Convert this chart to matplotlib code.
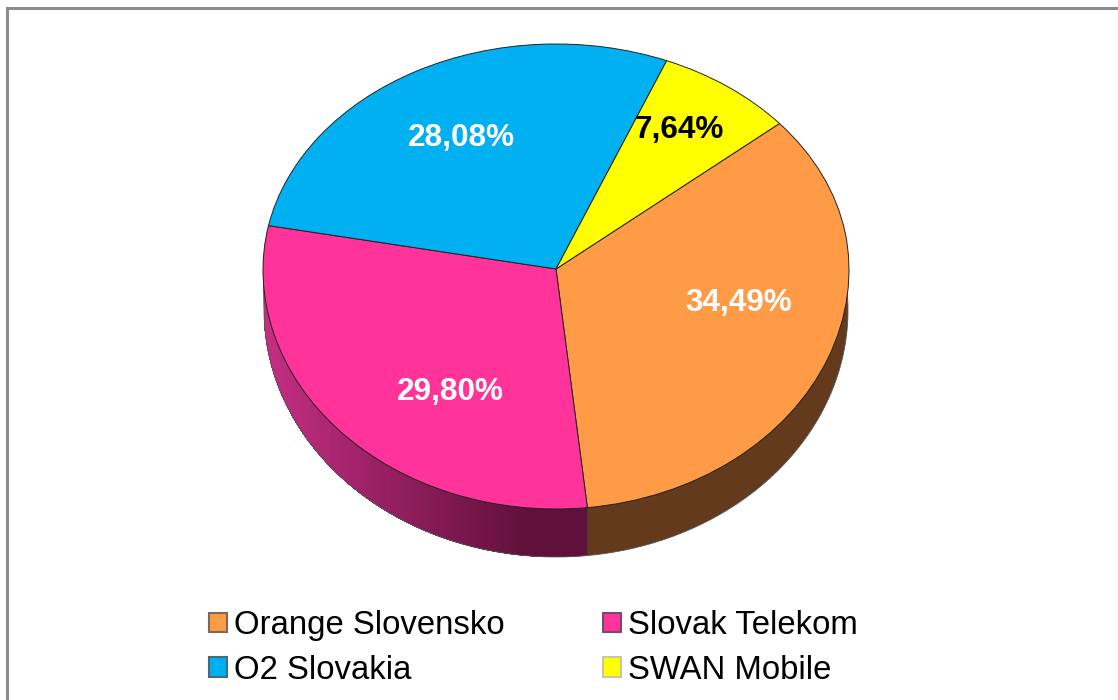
import numpy as np
import matplotlib
matplotlib.use('Agg')
import matplotlib.pyplot as plt
from matplotlib.patches import Patch, Rectangle

plt.rcParams['font.family'] = ['Liberation Sans', 'DejaVu Sans']

operators = ['Orange Slovensko', 'Slovak Telekom', 'O2 Slovakia', 'SWAN Mobile']
shares = [34.49, 29.80, 28.08, 7.64]
share_labels = ['34,49%', '29,80%', '28,08%', '7,64%']
colors = ['#FF9A46', '#FF3399', '#00B0F0', '#FFFF00']
label_colors = ['white', 'white', 'white', 'black']
legend_edges = ['#7A6A5A', '#7A4A6A', '#4A6A7A', '#C8C8A0']

W, H = 1118, 700
cx, cy = 556, 269      # apex of the slices, pixels
rx, ry = 293, 240      # top face, lower half
ry_up = 225            # top face, upper half is flatter
rx2, ry2 = 292, 247    # bottom rim ellipse
cy2 = 310
start = 40.3


def px(x, y):
    return x / W, 1 - y / H


def squash(y):
    y = np.asarray(y, float)
    return np.where(y > 0, y * ry_up / ry, y)


def unsquash(y):
    y = np.asarray(y, float)
    return np.where(y > 0, y * ry / ry_up, y)


def rim(t):
    return np.cos(t) * rx2 / rx, np.sin(t) * ry2 / ry - (cy2 - cy) / ry


def side_poly(th, t_end):
    # slice centre, down the near edge, along the rim, back up the far edge
    xs, ys = rim(th)
    return (np.r_[0, np.cos(th[0]), xs, np.cos(t_end)],
            np.r_[0, np.sin(th[0]), ys, np.sin(t_end)])


fig = plt.figure(figsize=(W / 100, H / 100), dpi=100)
ax = fig.add_axes([0, 0, 1, 1])

left_col = np.array([0xC6, 0x2E, 0x84]) / 255
right_col = np.array([0x60, 0x10, 0x3A]) / 255
a = start
for v, c in zip(shares, colors):
    a2 = a - v * 3.6
    th = np.radians(np.linspace(a, a2, int(v * 3.6) + 2))
    if c == '#FF3399':
        # pink side gets lighter going left, each piece paints over the last
        for i in range(len(th) - 1):
            pos = cx + rx2 * np.cos(th[i])
            k = np.clip((530 - pos) / (530 - 265), 0, 1)
            col = right_col * (1 - k) + left_col * k
            ax.fill(*side_poly(th[i:], th[-1]), color=col, lw=0, zorder=1)
    elif c == '#FF9A46':
        ax.fill(*side_poly(th, th[-1]), color='#633A1C', lw=0, zorder=1)
    if np.sin(np.radians(a2)) < 0:
        t = np.radians(a2)
        ax.plot([np.cos(t), rim(t)[0]], [np.sin(t), rim(t)[1]], color='#2a2a2a', lw=0.6, zorder=2)
    a = a2

th = np.radians(np.linspace(170, 370, 300))
ax.plot(*rim(th), color='#555555', lw=0.6, zorder=2)

wedges, _ = ax.pie(shares, colors=colors, startangle=start, counterclock=False,
                   wedgeprops={'edgecolor': '#222222', 'linewidth': 0.7, 'zorder': 3})

# stretch the unit circle into the tilted ellipse
ax.set_aspect('auto')
ax.set_yscale('function', functions=(squash, unsquash))
ax.set_xlim(-cx / rx, (W - cx) / rx)
ax.set_ylim((cy - H) / ry, cy / ry_up)
ax.axis('off')

label_pos = [(739, 303), (450, 392), (461, 138), (679, 130)]
for s, lc, (x, y) in zip(share_labels, label_colors, label_pos):
    tx, ty = px(x, y)
    fig.text(tx, ty, s, color=lc, fontsize=22.7, fontweight='bold', ha='center', va='center', zorder=5)

# chart frame, right and bottom run off the picture
fig.add_artist(Rectangle(px(7, 720), (W + 40) / W, 712 / H, transform=fig.transFigure,
                         fill=False, edgecolor='#8c8c8c', linewidth=2.2))

handles = [Patch(facecolor=c, edgecolor=e, linewidth=1.5) for c, e in zip(colors, legend_edges)]
order = [0, 2, 1, 3]
fig.legend([handles[i] for i in order], [operators[i] for i in order], ncol=2,
           loc='lower left', bbox_to_anchor=px(209, 686), frameon=False, fontsize=23.7,
           handlelength=0.55, handleheight=0.55, handletextpad=0.2, columnspacing=3.0,
           labelspacing=0.42, borderpad=0, borderaxespad=0)

fig.savefig('out.png', dpi=100)
